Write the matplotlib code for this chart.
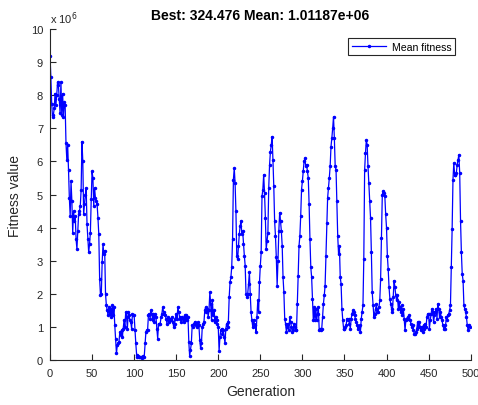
import numpy as np
import matplotlib
matplotlib.use("Agg")
import matplotlib.pyplot as plt

plt.rcParams['font.family'] = ['Liberation Sans', 'DejaVu Sans']

# mean fitness per generation, in units of 1e6
mean_fitness = [
    9.2, 8.55, 7.75, 7.35, 7.4, 7.6, 8.05, 7.7, 8.0, 8.4,
    8.3, 7.9, 7.45, 8.4, 7.4, 8.05, 7.35, 7.8, 7.7, 6.55,
    6.05, 6.5, 5.75, 4.9, 4.35, 5.4, 4.8, 3.85, 4.5, 4.2,
    4.35, 3.65, 3.35, 3.9, 4.4, 4.5, 4.65, 5.15, 6.6, 6.0,
    4.4, 4.7, 5.0, 5.2, 4.1, 3.65, 3.25, 3.5, 3.85, 4.85,
    5.7, 5.5, 4.65, 5.2, 4.9, 4.8, 4.7, 4.3, 3.8, 2.45,
    1.95, 2.0, 2.95, 3.5, 3.2, 3.3, 2.0, 1.65, 1.5, 1.35,
    1.6, 1.4, 1.55, 1.3, 1.65, 1.35, 1.6, 1.05, 0.65, 0.2,
    0.45, 0.5, 0.55, 0.85, 0.75, 0.9, 0.7, 0.95, 1.2, 1.0,
    1.45, 1.3, 0.95, 1.45, 1.35, 1.2, 1.15, 0.95, 1.4, 1.35,
    1.35, 0.9, 0.5, 0.15, 0.1, 0.12, 0.1, 0.08, 0.1, 0.07,
    0.1, 0.12, 0.1, 0.5, 0.85, 0.9, 0.9, 1.35, 1.4, 1.25,
    1.5, 1.4, 1.2, 1.4, 1.15, 1.4, 1.3, 0.95, 0.65, 1.1,
    1.1, 1.1, 1.3, 1.4, 1.6, 1.45, 1.4, 1.35, 1.25, 1.1,
    1.3, 1.15, 1.2, 1.25, 1.2, 1.3, 1.15, 1.0, 1.1, 1.25,
    1.4, 1.25, 1.6, 1.45, 1.3, 1.25, 1.15, 1.3, 1.25, 1.15,
    1.35, 1.2, 1.35, 1.2, 1.3, 0.55, 0.12, 0.3, 0.5, 1.05,
    1.0, 1.1, 1.15, 1.05, 1.1, 1.0, 1.15, 1.05, 0.6, 0.35,
    0.5, 1.0, 1.1, 1.15, 1.5, 1.6, 1.45, 1.55, 1.3, 1.5,
    2.05, 1.7, 1.2, 1.8, 1.35, 1.5, 1.15, 1.3, 1.2, 1.1,
    1.0, 0.27, 0.7, 0.9, 0.95, 0.8, 0.9, 0.7, 0.5, 0.95,
    1.1, 1.0, 1.15, 1.9, 2.35, 2.5, 2.8, 3.65, 5.45, 5.8,
    5.35, 4.5, 3.15, 3.05, 3.45, 3.8, 4.05, 4.2, 3.8, 3.9,
    3.5, 3.15, 2.85, 2.0, 1.9, 2.0, 2.3, 2.65, 2.0, 1.45,
    1.2, 1.0, 1.2, 1.1, 1.05, 0.85, 1.3, 1.8, 1.45, 2.35,
    2.85, 3.25, 4.95, 5.15, 5.6, 5.05, 4.3, 3.35, 3.6, 3.85,
    5.2, 5.9, 6.3, 6.5, 6.75, 6.05, 5.25, 4.2, 3.75, 3.1,
    2.25, 3.0, 3.9, 4.45, 4.2, 3.9, 3.45, 2.5, 2.05, 1.25,
    1.1, 0.85, 1.0, 1.1, 0.9, 1.3, 1.15, 1.0, 0.85, 0.9,
    1.1, 1.0, 0.9, 0.9, 1.7, 2.55, 3.45, 3.75, 4.35, 5.15,
    5.4, 5.7, 6.0, 6.1, 5.85, 5.9, 5.7, 5.5, 4.7, 3.65,
    2.8, 2.5, 1.85, 1.2, 1.6, 1.2, 1.55, 1.2, 1.4, 1.6,
    0.9, 0.95, 0.9, 0.95, 1.3, 1.7, 1.95, 2.25, 3.15, 4.15,
    4.9, 5.2, 5.5, 5.85, 6.45, 6.7, 7.0, 7.35, 6.7, 5.85,
    5.75, 4.8, 3.75, 3.2, 3.45, 2.5, 2.3, 1.55, 1.2, 0.95,
    0.95, 1.0, 1.05, 1.25, 1.2, 1.25, 1.1, 0.95, 1.25, 1.4,
    1.5, 1.45, 1.35, 1.25, 1.15, 1.05, 0.95, 1.0, 1.05, 0.85,
    1.25, 1.45, 1.65, 3.05, 5.75, 6.25, 6.65, 6.5, 5.85, 5.35,
    4.8, 4.3, 3.25, 2.05, 1.65, 1.3, 1.4, 1.55, 1.7, 1.45,
    1.45, 1.6, 1.8, 2.45, 3.7, 5.0, 5.1, 5.05, 4.95, 4.4,
    4.0, 3.15, 2.75, 2.2, 1.85, 1.7, 1.55, 1.45, 1.9, 2.4,
    2.2, 1.95, 1.8, 1.95, 1.55, 1.75, 1.6, 1.45, 1.65, 1.35,
    1.55, 1.25, 0.9, 1.2, 1.25, 1.3, 1.25, 1.35, 1.2, 1.1,
    1.0, 1.05, 0.9, 0.8, 0.8, 0.85, 0.95, 1.15, 1.0, 1.15,
    1.0, 0.9, 1.0, 0.85, 1.05, 0.95, 1.1, 1.0, 1.3, 1.4,
    1.4, 0.95, 1.2, 1.4, 1.55, 1.45, 1.15, 1.35, 1.45, 1.55,
    1.25, 1.7, 1.55, 1.3, 1.45, 1.3, 1.2, 1.05, 0.95, 1.05,
    0.95, 1.3, 1.2, 1.35, 1.4, 1.5, 1.65, 2.8, 3.95, 5.45,
    5.95, 5.6, 5.6, 5.65, 5.9, 6.05, 6.2, 5.65, 4.2, 3.25,
    2.6, 2.4, 1.65, 1.55, 1.45, 1.3, 1.05, 0.9, 1.05, 1.01,
]
generations = np.arange(len(mean_fitness))

title_text = 'Best: 324.476 Mean: 1.01187e+06'
x_ticks = list(range(0, 501, 50))
y_ticks = list(range(0, 11))

axis_col = '#262626'

fig = plt.figure(figsize=(4.78, 4.06), dpi=100)
ax = fig.add_axes([0.1046, 0.1108, 0.880, 0.8152])

ax.plot(generations, mean_fitness, color='blue', linewidth=0.9,
        marker='.', markersize=3, label='Mean fitness')

ax.set_xlim(0, 500)
ax.set_ylim(0, 10)
ax.set_xticks(x_ticks)
ax.set_yticks(y_ticks)

for side in ['top', 'right']:
    ax.spines[side].set_visible(False)
for side in ['left', 'bottom']:
    ax.spines[side].set_color(axis_col)
    ax.spines[side].set_linewidth(0.8)
ax.tick_params(direction='in', length=4, width=0.8, colors=axis_col,
               labelsize=8)
ax.tick_params(axis='x', pad=6)
ax.tick_params(axis='y', pad=5)

ax.set_xlabel('Generation', fontsize=10, color=axis_col, labelpad=4)
ax.set_ylabel('Fitness value', fontsize=10, color=axis_col, labelpad=6)
ax.set_title(title_text, fontsize=10, fontweight='bold', pad=7)

ax.text(0.0, 1.008, r'x 10$^{6}$', transform=ax.transAxes,
        fontsize=8, color=axis_col, ha='left', va='bottom')

leg = ax.legend(loc='upper right', bbox_to_anchor=(0.964, 0.973),
                fontsize=7.6, fancybox=False, framealpha=1,
                edgecolor=axis_col, borderpad=0.35, handlelength=3.2,
                handletextpad=0.6, borderaxespad=0)
leg.get_frame().set_linewidth(0.8)

fig.savefig('out.png', dpi=100)
